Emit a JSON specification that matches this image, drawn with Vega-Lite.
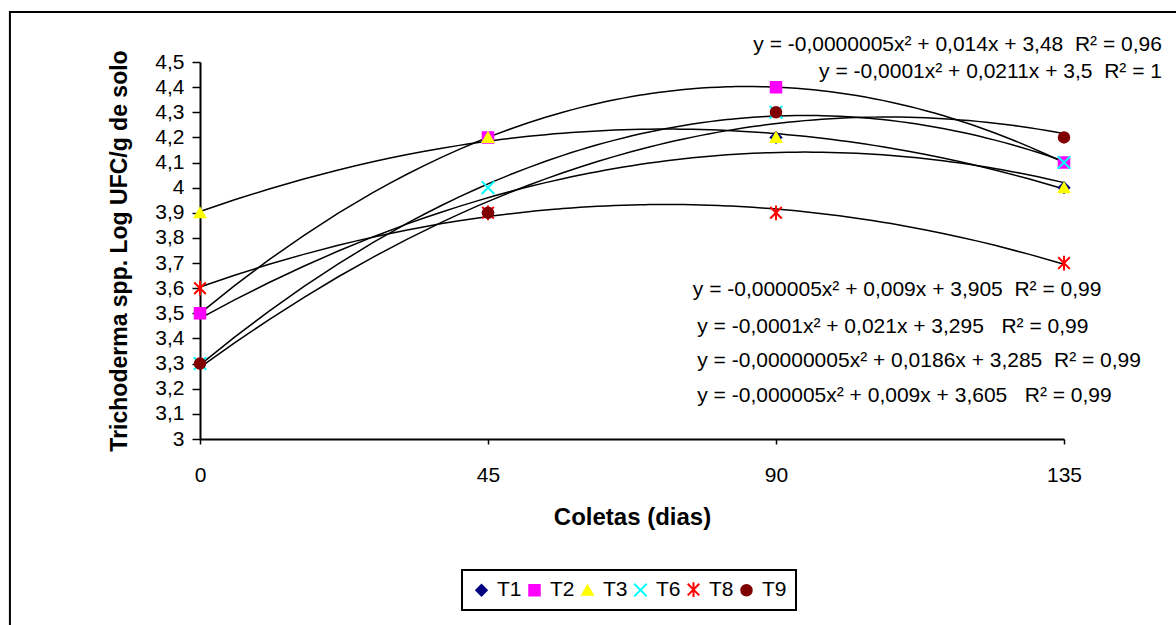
{
  "$schema": "https://vega.github.io/schema/vega-lite/v6.json",
  "width": 864,
  "height": 377,
  "autosize": {"type": "none"},
  "padding": {"left": 200, "top": 62, "right": 112, "bottom": 186},
  "background": "white",
  "config": {
    "view": {"stroke": null},
    "font": "Liberation Sans",
    "axis": {"domainColor": "black", "tickColor": "black", "labelColor": "black", "titleColor": "black", "grid": false, "labelFont": "Liberation Sans", "titleFont": "Liberation Sans"},
    "legend": {"strokeWidth": 2}
  },
  "encoding": {
    "x": {
      "type": "quantitative",
      "scale": {"domain": [0, 135], "nice": false, "zero": false},
      "axis": {"values": [0, 45, 90, 135], "title": "Coletas (dias)", "titleFontSize": 24, "titleFontWeight": "bold", "labelFontSize": 21, "labelFlush": false, "tickSize": 5, "labelPadding": 20, "titlePadding": 20, "domainWidth": 2, "tickWidth": 1.5}
    },
    "y": {
      "type": "quantitative",
      "scale": {"domain": [3, 4.5], "nice": false, "zero": false},
      "axis": {"values": [3, 3.1, 3.2, 3.3, 3.4, 3.5, 3.6, 3.7, 3.8, 3.9, 4, 4.1, 4.2, 4.3, 4.4, 4.5], "labelExpr": "replace(format(datum.value, '.1~f'), '.', ',')", "labelOverlap": false, "labelFlush": false, "labelBound": false, "title": "Trichoderma spp. Log UFC/g de solo", "titleFontSize": 23, "titleFontWeight": "bold", "labelFontSize": 21, "tickSize": 8, "labelPadding": 8, "titlePadding": 23, "domainWidth": 2, "tickWidth": 1.5}
    }
  },
  "datasets": {
    "obs": [
      {"dias": 0, "valor": 3.5, "serie": "T1"},
      {"dias": 0, "valor": 3.5, "serie": "T2"},
      {"dias": 0, "valor": 3.9, "serie": "T3"},
      {"dias": 0, "valor": 3.3, "serie": "T6"},
      {"dias": 0, "valor": 3.6, "serie": "T8"},
      {"dias": 0, "valor": 3.3, "serie": "T9"},
      {"dias": 45, "valor": 3.9, "serie": "T1"},
      {"dias": 45, "valor": 4.2, "serie": "T2"},
      {"dias": 45, "valor": 4.2, "serie": "T3"},
      {"dias": 45, "valor": 4.0, "serie": "T6"},
      {"dias": 45, "valor": 3.9, "serie": "T8"},
      {"dias": 45, "valor": 3.9, "serie": "T9"},
      {"dias": 90, "valor": 4.2, "serie": "T1"},
      {"dias": 90, "valor": 4.4, "serie": "T2"},
      {"dias": 90, "valor": 4.2, "serie": "T3"},
      {"dias": 90, "valor": 4.3, "serie": "T6"},
      {"dias": 90, "valor": 3.9, "serie": "T8"},
      {"dias": 90, "valor": 4.3, "serie": "T9"},
      {"dias": 135, "valor": 4.0, "serie": "T1"},
      {"dias": 135, "valor": 4.1, "serie": "T2"},
      {"dias": 135, "valor": 4.0, "serie": "T3"},
      {"dias": 135, "valor": 4.1, "serie": "T6"},
      {"dias": 135, "valor": 3.7, "serie": "T8"},
      {"dias": 135, "valor": 4.2, "serie": "T9"}
    ]
  },
  "layer": [
    {
      "data": {"values": [{}]},
      "mark": {"type": "rect", "filled": false, "stroke": "black", "strokeWidth": 2, "clip": false},
      "encoding": {
        "x": {"datum": -29.7},
        "x2": {"datum": 170},
        "y": {"datum": 4.699},
        "y2": {"datum": 2.0}
      }
    },
    {
      "data": {"name": "obs"},
      "transform": [
        {"regression": "valor", "on": "dias", "groupby": ["serie"], "method": "poly", "order": 2, "extent": [0, 135]}
      ],
      "mark": {"type": "line", "color": "black", "strokeWidth": 1.5},
      "encoding": {
        "x": {"field": "dias"},
        "y": {"field": "valor"},
        "detail": {"field": "serie"}
      }
    },
    {
      "data": {"name": "obs"},
      "mark": {"type": "point", "filled": true, "opacity": 1, "strokeWidth": 2, "size": 110, "clip": false},
      "encoding": {
        "x": {"field": "dias"},
        "y": {"field": "valor"},
        "fill": {
          "field": "serie", "type": "nominal",
          "scale": {"domain": ["T1", "T2", "T3", "T6", "T8", "T9"], "range": ["#000080", "#FF00FF", "#FFFF00", "#00FFFF", "#FF0000", "#800000"]},
          "legend": {"title": null, "orient": "none", "legendX": 262, "legendY": 508, "direction": "horizontal", "columns": 6, "strokeColor": "black", "padding": 9, "labelFontSize": 21, "labelColor": "black", "symbolSize": 110, "symbolStrokeWidth": 2, "labelOffset": 5, "columnPadding": 2, "fillColor": "white"}
        },
        "stroke": {
          "field": "serie", "type": "nominal",
          "scale": {"domain": ["T1", "T2", "T3", "T6", "T8", "T9"], "range": ["#000080", "#FF00FF", "#FFFF00", "#00FFFF", "#FF0000", "#800000"]},
          "legend": {"title": null, "orient": "none", "legendX": 262, "legendY": 508, "direction": "horizontal", "columns": 6, "strokeColor": "black", "padding": 9, "labelFontSize": 21, "labelColor": "black", "symbolSize": 110, "symbolStrokeWidth": 2, "labelOffset": 5, "columnPadding": 2, "fillColor": "white"}
        },
        "shape": {
          "field": "serie", "type": "nominal",
          "scale": {"domain": ["T1", "T2", "T3", "T6", "T8", "T9"], "range": ["diamond", "square", "triangle-up", "M-1.2,-1.2L1.2,1.2M-1.2,1.2L1.2,-1.2", "M-1.1,-1.1L1.1,1.1M-1.1,1.1L1.1,-1.1M0,-1.4L0,1.4", "circle"]},
          "legend": {"title": null, "orient": "none", "legendX": 262, "legendY": 508, "direction": "horizontal", "columns": 6, "strokeColor": "black", "padding": 9, "labelFontSize": 21, "labelColor": "black", "symbolSize": 110, "symbolStrokeWidth": 2, "labelOffset": 5, "columnPadding": 2, "fillColor": "white"}
        }
      }
    },
    {
      "data": {"values": [{}]},
      "mark": {"type": "text", "align": "right", "baseline": "middle", "fontSize": 21, "color": "black", "clip": false},
      "encoding": {"x": {"datum": 150.3}, "y": {"datum": 4.568}, "text": {"value": "y = -0,0000005x² + 0,014x + 3,48\u00a0 R² = 0,96"}}
    },
    {
      "data": {"values": [{}]},
      "mark": {"type": "text", "align": "right", "baseline": "middle", "fontSize": 21, "color": "black", "clip": false},
      "encoding": {"x": {"datum": 150.3}, "y": {"datum": 4.46}, "text": {"value": "y = -0,0001x² + 0,0211x + 3,5\u00a0 R² = 1"}}
    },
    {
      "data": {"values": [{}]},
      "mark": {"type": "text", "align": "left", "baseline": "middle", "fontSize": 21, "color": "black", "clip": false},
      "encoding": {"x": {"datum": 77.0}, "y": {"datum": 3.593}, "text": {"value": "y = -0,000005x² + 0,009x + 3,905\u00a0 R² = 0,99"}}
    },
    {
      "data": {"values": [{}]},
      "mark": {"type": "text", "align": "left", "baseline": "middle", "fontSize": 21, "color": "black", "clip": false},
      "encoding": {"x": {"datum": 77.7}, "y": {"datum": 3.446}, "text": {"value": "y = -0,0001x² + 0,021x + 3,295\u00a0 \u00a0R² = 0,99"}}
    },
    {
      "data": {"values": [{}]},
      "mark": {"type": "text", "align": "left", "baseline": "middle", "fontSize": 21, "color": "black", "clip": false},
      "encoding": {"x": {"datum": 77.7}, "y": {"datum": 3.31}, "text": {"value": "y = -0,00000005x² + 0,0186x + 3,285\u00a0 R² = 0,99"}}
    },
    {
      "data": {"values": [{}]},
      "mark": {"type": "text", "align": "left", "baseline": "middle", "fontSize": 21, "color": "black", "clip": false},
      "encoding": {"x": {"datum": 77.7}, "y": {"datum": 3.171}, "text": {"value": "y = -0,000005x² + 0,009x + 3,605\u00a0 \u00a0R² = 0,99"}}
    }
  ]
}
